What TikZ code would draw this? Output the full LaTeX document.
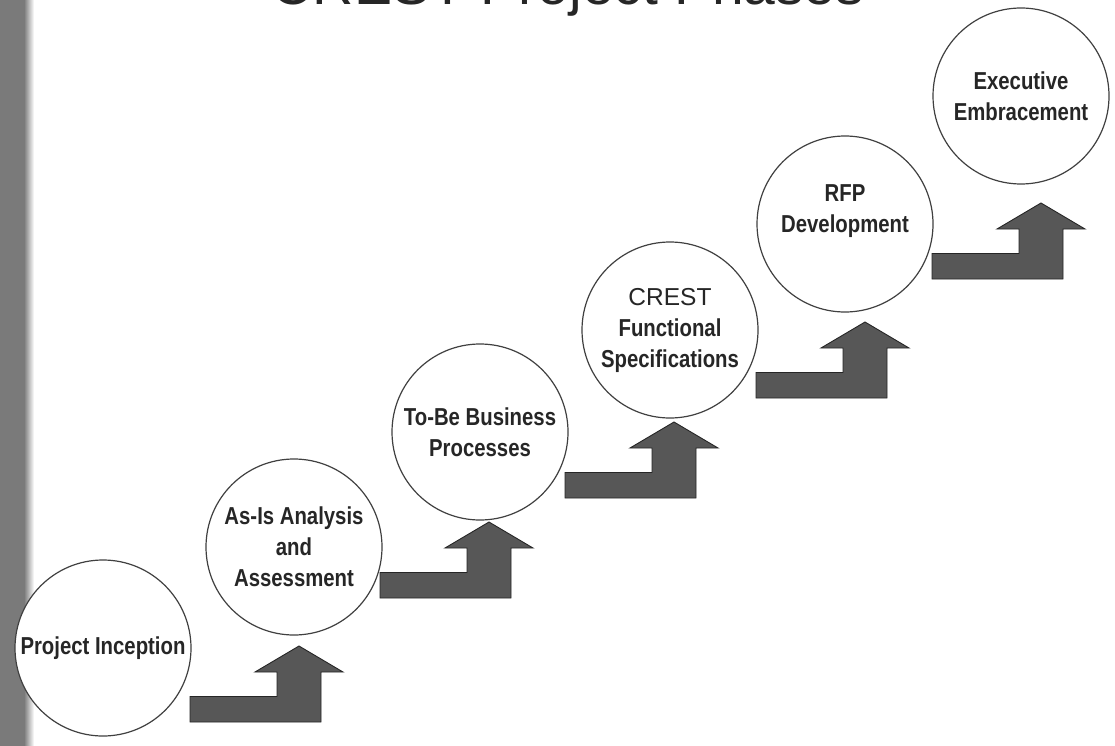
\documentclass[tikz,border=0pt]{standalone}
\usepackage{fontspec}
\setmainfont{Liberation Sans}
\newfontfamily\phasefont[FakeStretch=0.83]{Liberation Sans}
\usetikzlibrary{positioning}

\begin{document}
\begin{tikzpicture}[x=1pt, y=-1pt]
\tikzset{
    phase/.style={circle, draw=black!75, line width=1.2pt, fill=white, minimum size=176pt, inner sep=0pt, align=center, text=black!85, font=\phasefont\bfseries\fontsize{24.5}{31}\selectfont},
    steparrow/.style={fill=black!66, draw=black!85, line width=0.9pt, line join=miter},
    heading/.style={anchor=base, text=black!85, font=\fontsize{57}{60}\selectfont}
}
\useasboundingbox (0,0) rectangle (1115,746);
\clip (0,0) rectangle (1115,746);
% grey strip on the left edge
\fill[black!52] (0,0) rectangle (24,746);
\shade[left color=black!52, right color=white] (24,0) rectangle (34,746);

\node[heading] (title) at (568,5) {CREST Project Phases};

\node[phase] (inception) at (103,648) {Project Inception};
\node[phase] (asis) at (294,547) {As-Is Analysis\\and\\Assessment};
\node[phase] (tobe) at (480,432) {To-Be Business\\Processes};
\node[phase] (specs) at (670,330) {{\normalfont CREST}\\Functional\\Specifications};
\node[phase] (rfp) at (845,224) {RFP\\Development\\{}};
\node[phase] (exec) at (1021,96) {Executive\\Embracement};

% one step arrow after each phase
\foreach \bx/\by in {190/722, 380/598, 565/498, 756/398, 932/279}
    \filldraw[steparrow] (\bx,\by) -- ++(131,0) -- ++(0,-50) -- ++(22,0)
        -- ++(-44,-26) -- ++(-44,26) -- ++(22,0) -- ++(0,24.5) -- ++(-87,0) -- cycle;

\end{tikzpicture}
\end{document}
